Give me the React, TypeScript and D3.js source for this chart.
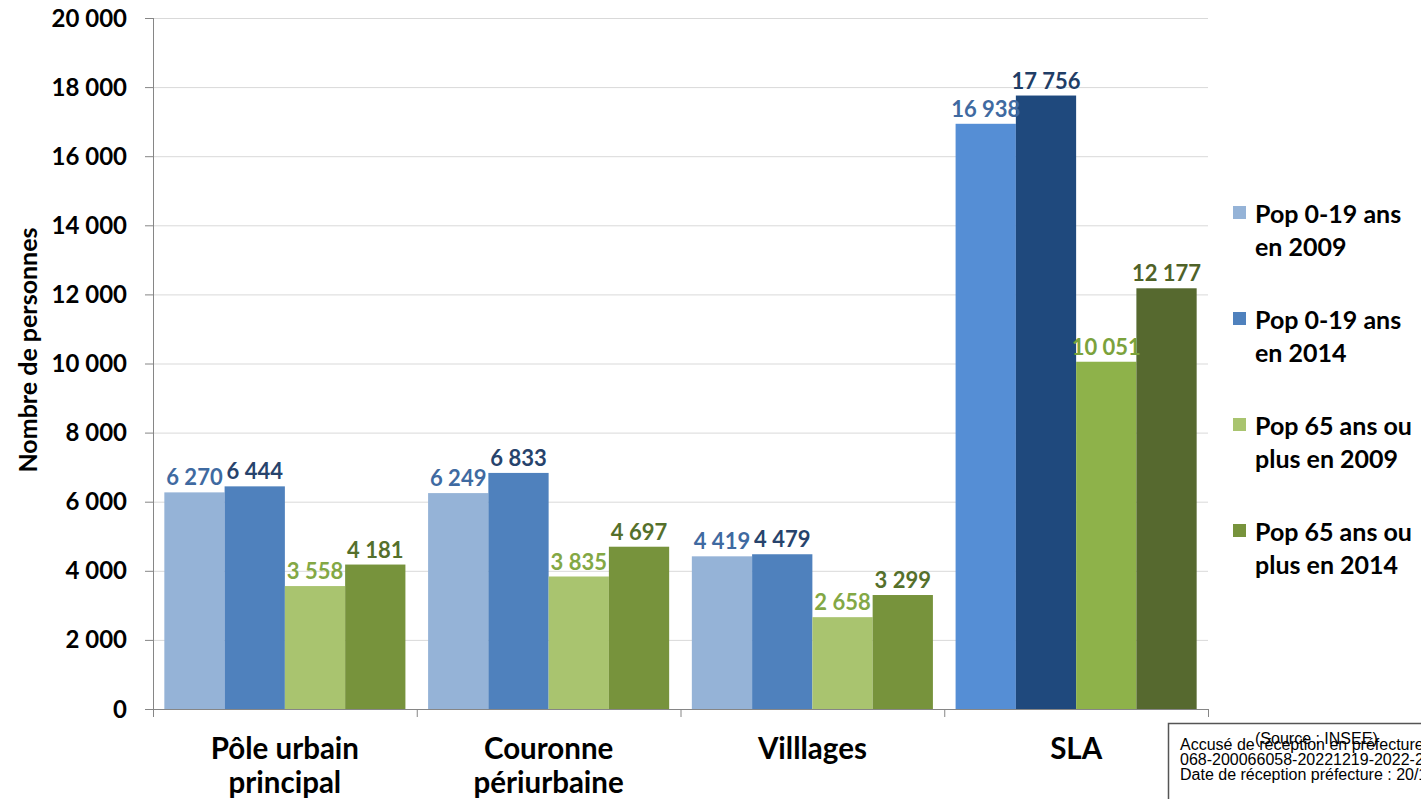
import React from "react";
import * as d3 from "d3";

const categories = [["Pôle urbain", "principal"], ["Couronne", "périurbaine"], ["Villlages"], ["SLA"]];
const categoryKeys = ["Pôle urbain principal", "Couronne périurbaine", "Villlages", "SLA"];
const seriesNames = [["Pop 0-19 ans", "en 2009"], ["Pop 0-19 ans", "en 2014"], ["Pop 65 ans ou", "plus en 2009"], ["Pop 65 ans ou", "plus en 2014"]];
const pop019_2009 = [6270, 6249, 4419, 16938];
const pop019_2014 = [6444, 6833, 4479, 17756];
const pop65_2009 = [3558, 3835, 2658, 10051];
const pop65_2014 = [4181, 4697, 3299, 12177];
const series = [pop019_2009, pop019_2014, pop65_2009, pop65_2014];
const yTicks = [0, 2000, 4000, 6000, 8000, 10000, 12000, 14000, 16000, 18000, 20000];

const barColors = ["#95b3d7", "#4f81bd", "#a9c46f", "#77933c"];
const slaColors = ["#558ed5", "#1f497d", "#8eb24a", "#56692f"];
const labelColors = ["#3f6aa1", "#27436c", "#83a845", "#55702b"];
const slaLabelColors = ["#3f6aa1", "#1f3d66", "#7ba23c", "#4f6228"];

const FONT = "Lato, 'Open Sans', sans-serif";

export default function App() {
  const W = 1421, H = 799;
  const left = 153, right = 1208, top = 18, bottom = 709;
  const x = d3.scaleBand<string>().domain(categoryKeys).range([left, right]).paddingInner(0.086).paddingOuter(0.043);
  const xs = d3.scaleBand<number>().domain([0, 1, 2, 3]).range([0, x.bandwidth()]);
  const y = d3.scaleLinear().domain([0, 20000]).range([bottom, top]);
  const fmt = (v: number) => d3.format(",")(v).replace(/,/g, " ");
  const step = x.step();

  return (
    <svg width={W} height={H} style={{ position: "absolute", left: 0, top: 0, background: "#fff" }} fontFamily={FONT}>
      <rect x={0} y={0} width={W} height={H} fill="#fff" />
      {/* gridlines */}
      {yTicks.filter((t) => t > 0).map((t) => (
        <line key={"g" + t} x1={left} x2={right} y1={y(t) + 0.5} y2={y(t) + 0.5} stroke="#d9d9d9" strokeWidth={1} />
      ))}
      {/* bars */}
      {categoryKeys.map((c, ci) => (
        <g key={c}>
          {series.map((s, si) => {
            const v = s[ci];
            const bx = (x(c) as number) + (xs(si) as number);
            const isSla = c === "SLA";
            return (
              <rect key={si} x={bx} y={y(v)} width={xs.bandwidth()} height={bottom - y(v)}
                fill={isSla ? slaColors[si] : barColors[si]} />
            );
          })}
        </g>
      ))}
      {/* value labels */}
      {categoryKeys.map((c, ci) => (
        <g key={"l" + c}>
          {series.map((s, si) => {
            const v = s[ci];
            const cx = (x(c) as number) + (xs(si) as number) + xs.bandwidth() / 2;
            const isSla = c === "SLA";
            return (
              <text key={si} x={cx} y={y(v) - 7} textAnchor="middle" fontSize={22} fontWeight={700}
                fill={isSla ? slaLabelColors[si] : labelColors[si]}>{fmt(v)}</text>
            );
          })}
        </g>
      ))}
      {/* axes */}
      <line x1={left + 0.5} x2={left + 0.5} y1={top} y2={bottom} stroke="#868686" strokeWidth={1} />
      <line x1={left - 8} x2={right} y1={bottom + 0.5} y2={bottom + 0.5} stroke="#868686" strokeWidth={1} />
      {yTicks.map((t) => (
        <g key={"t" + t}>
          <line x1={left - 8} x2={left} y1={y(t) + 0.5} y2={y(t) + 0.5} stroke="#868686" strokeWidth={1} />
          <text x={127} y={y(t) + 8.5} textAnchor="end" fontSize={24} fontWeight={700} fill="#000">{fmt(t)}</text>
        </g>
      ))}
      {d3.range(categoryKeys.length + 1).map((i) => (
        <line key={"xt" + i} x1={left + i * step + 0.5} x2={left + i * step + 0.5} y1={bottom} y2={bottom + 8} stroke="#868686" strokeWidth={1} />
      ))}
      {categoryKeys.map((c, ci) => (
        <text key={"xl" + c} x={(x(c) as number) + x.bandwidth() / 2} textAnchor="middle" fontSize={29.5} fontWeight={700} fill="#000">
          {categories[ci].map((line, li) => (
            <tspan key={li} x={(x(c) as number) + x.bandwidth() / 2} y={759 + li * 34}>{line}</tspan>
          ))}
        </text>
      ))}
      <text transform="translate(37,350) rotate(-90)" textAnchor="middle" fontSize={25} fontWeight={700} fill="#000">Nombre de personnes</text>
      {/* legend */}
      {seriesNames.map((n, i) => (
        <g key={"lg" + i} transform={`translate(0, ${i * 106})`}>
          <rect x={1233} y={206} width={13} height={13} fill={barColors[i]} />
          <text fontSize={25} fontWeight={700} fill="#000">
            <tspan x={1255} y={223}>{n[0]}</tspan>
            <tspan x={1255} y={256}>{n[1]}</tspan>
          </text>
        </g>
      ))}
      {/* source & stamp */}
      <rect x={1168.5} y={723.5} width={300} height={120} fill="#fff" stroke="#555" strokeWidth={1.5} />
      <text x={1255} y={744} fontSize={16} fontFamily="'Liberation Sans', Arial, sans-serif" fill="#000">(Source : INSEE)</text>
      <g fontFamily="'Liberation Sans', Arial, sans-serif" fontSize={16} fill="#000">
        <text x={1180} y={750}>Accusé de réception en préfecture</text>
        <text x={1180} y={765}>068-200066058-20221219-2022-259-DE</text>
        <text x={1180} y={780}>Date de réception préfecture : 20/12/2022</text>
      </g>
    </svg>
  );
}
